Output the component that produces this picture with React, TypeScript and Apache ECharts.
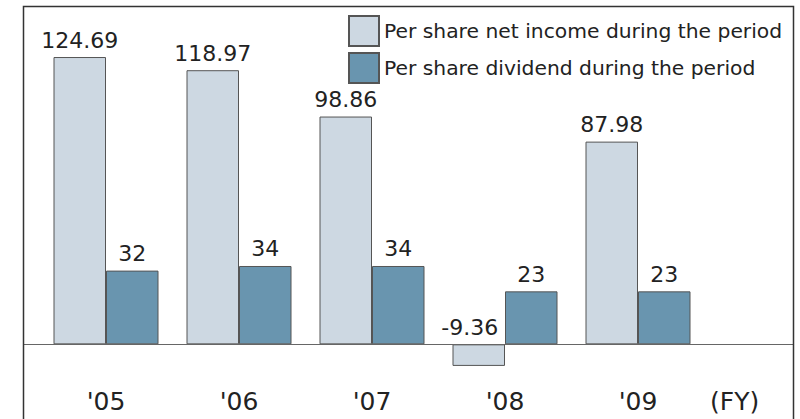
import React, { useEffect, useRef } from "react";
import * as echarts from "echarts";

const categories = ["'05", "'06", "'07", "'08", "'09"];
const netIncome = [124.69, 118.97, 98.86, -9.36, 87.98];
const dividend = [32, 34, 34, 23, 23];
const seriesNames = [
  "Per share net income during the period",
  "Per share dividend during the period",
];
const unitLabel = "(FY)";

const FONT = "DejaVu Sans";

export default function App() {
  const ref = useRef<HTMLDivElement>(null);
  useEffect(() => {
    if (!ref.current) return;
    const chart = echarts.init(ref.current, undefined, { renderer: "svg" });
    const labelStyle = {
      show: true,
      position: "top" as const,
      distance: 6,
      fontSize: 22,
      fontFamily: FONT,
      color: "#222",
      formatter: (p: any) => String(p.value),
    };
    chart.setOption({
      animation: false,
      backgroundColor: "#fff",
      textStyle: { fontFamily: FONT },
      grid: {
        left: 39.5,
        right: 95.5,
        top: 7,
        bottom: 0,
        containLabel: false,
        outerBoundsMode: "none",
      },
      legend: {
        orient: "vertical",
        left: 343,
        top: 10,
        itemWidth: 30,
        itemHeight: 30,
        itemGap: 5,
        icon: "rect",
        textStyle: { fontSize: 20.3, fontFamily: FONT, color: "#222" },
        data: seriesNames,
      },
      xAxis: {
        type: "category",
        data: categories,
        axisLine: { show: false, onZero: false },
        axisTick: { show: false },
        axisLabel: { fontSize: 25, fontFamily: FONT, color: "#222", margin: -30 },
      },
      yAxis: {
        type: "value",
        min: -32.4,
        max: 146.4,
        show: false,
        splitLine: { show: false },
      },
      series: [
        {
          name: seriesNames[0],
          type: "bar",
          data: netIncome.map((v) =>
            v < 0 ? { value: v, label: { offset: [-9, 0] } } : v
          ),
          barWidth: 52.5,
          barGap: "0%",
          itemStyle: { color: "#cdd8e2", borderColor: "#555", borderWidth: 1 },
          label: labelStyle,
        },
        {
          name: seriesNames[1],
          type: "bar",
          data: dividend,
          barWidth: 52.5,
          itemStyle: { color: "#6995af", borderColor: "#555", borderWidth: 1 },
          label: labelStyle,
        },
      ],
      graphic: [
        {
          type: "line",
          z: 10,
          shape: { x1: 23, y1: 344.5, x2: 794, y2: 344.5 },
          style: { stroke: "#666", lineWidth: 1 },
        },
        {
          type: "rect",
          z: 10,
          shape: { x: 23.5, y: 6.5, width: 770, height: 440 },
          style: { fill: "none", stroke: "#333", lineWidth: 1.5 },
        },
        {
          type: "text",
          left: 710,
          top: 389,
          style: { text: unitLabel, fontSize: 25, fontFamily: FONT, fill: "#222" },
        },
      ],
    });
    return () => chart.dispose();
  }, []);
  return (
    <div
      ref={ref}
      style={{ position: "fixed", left: 0, top: 0, width: 800, height: 419 }}
    />
  );
}
